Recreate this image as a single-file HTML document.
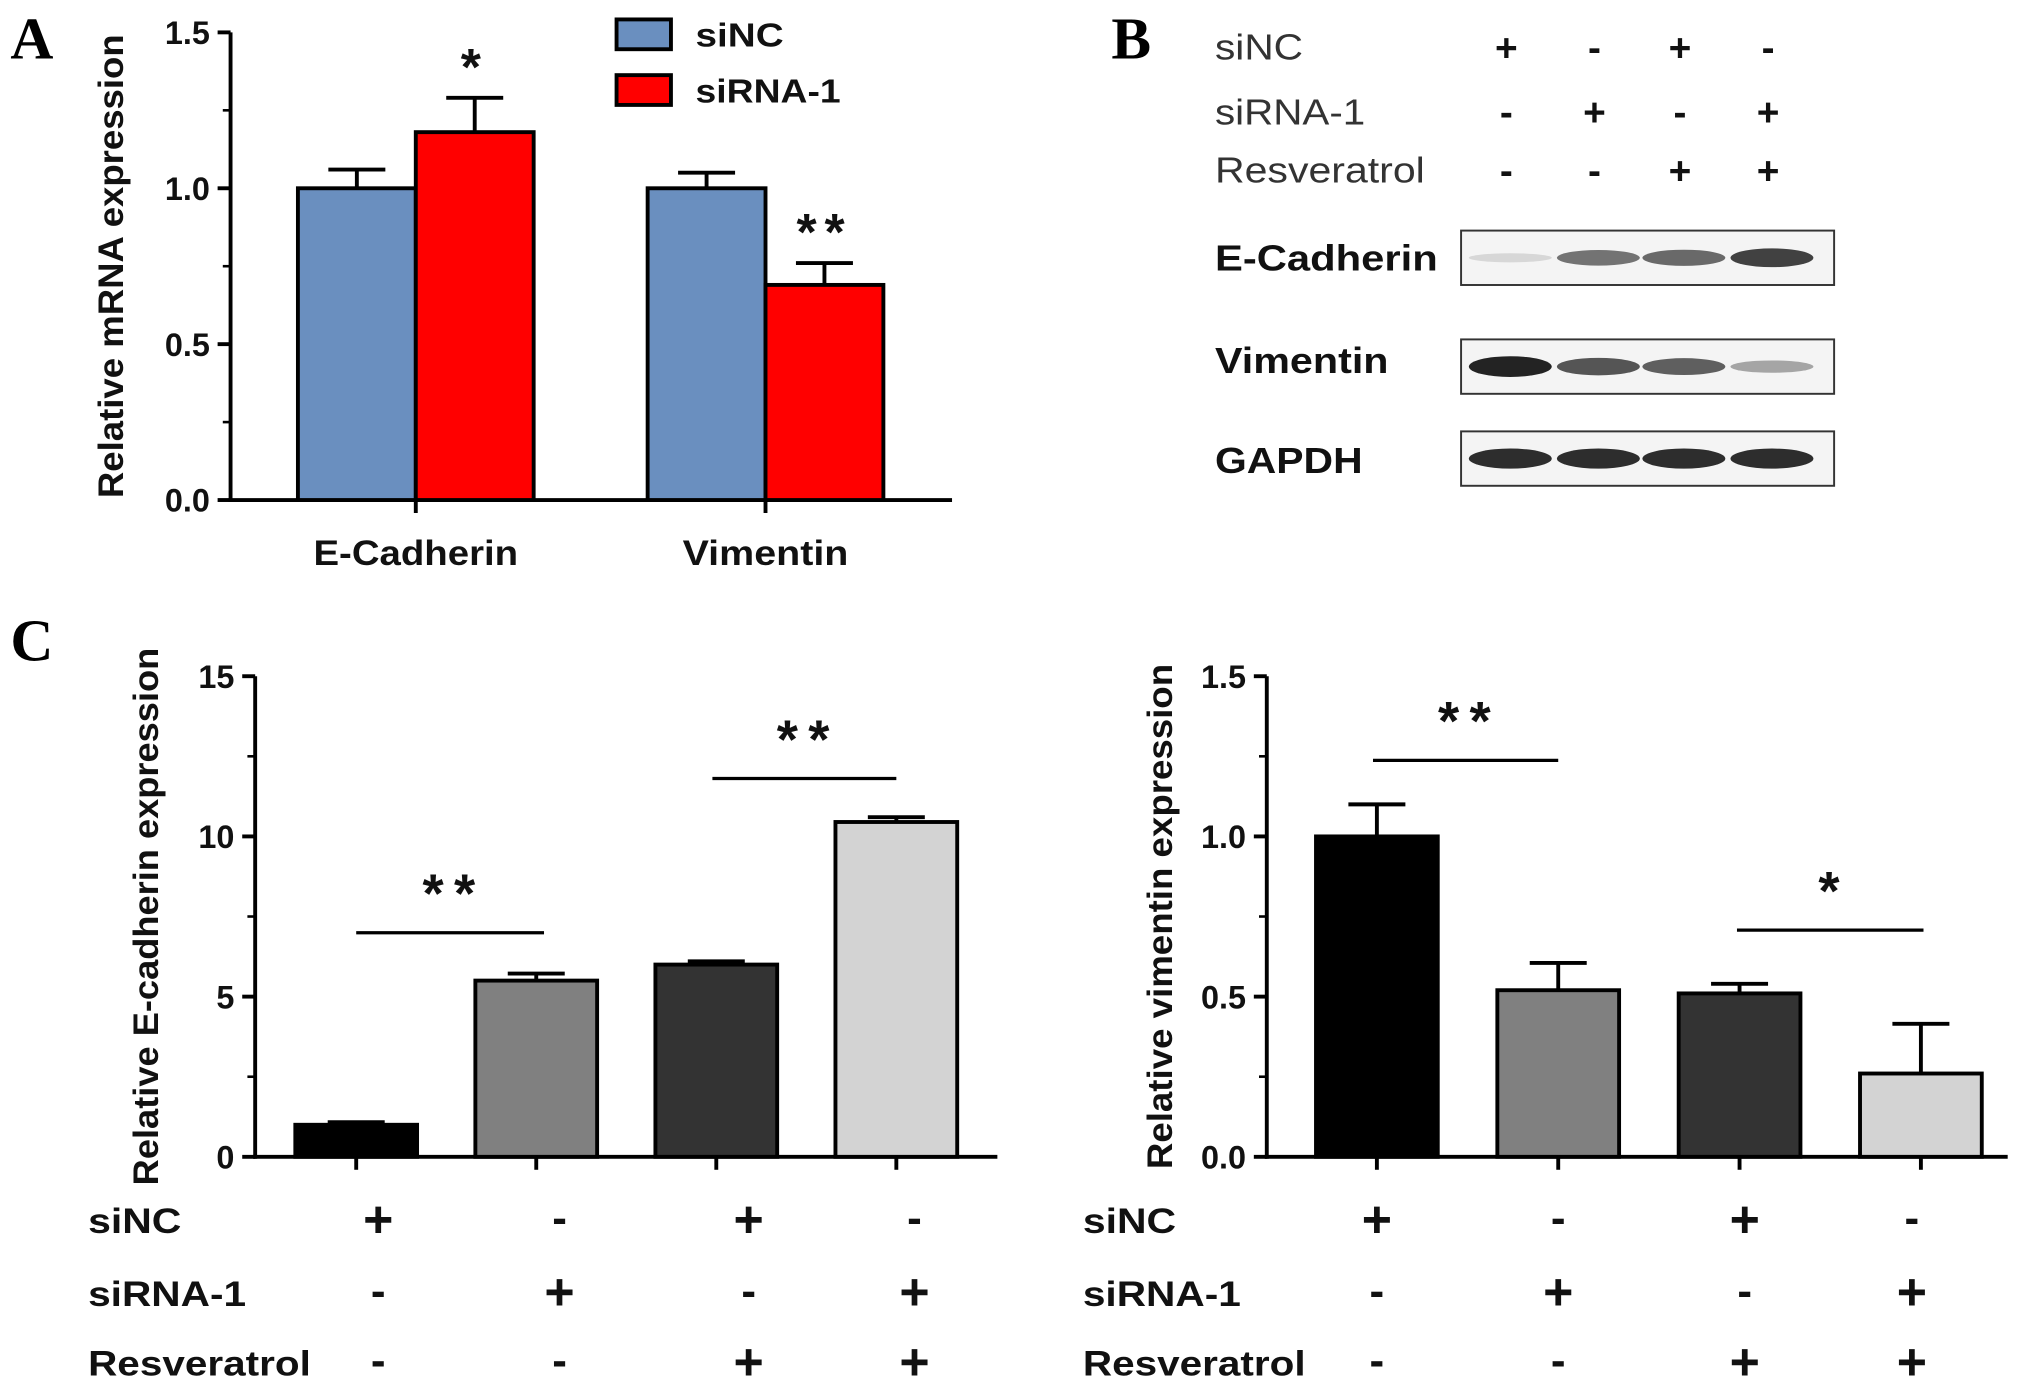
<!DOCTYPE html>
<html><head><meta charset="utf-8"><style>
html,body{margin:0;padding:0;background:#fff;}
svg{display:block;}
text{font-family:"Liberation Sans",Arial,sans-serif;}
</style></head><body>
<svg id="fig" width="2031" height="1390" viewBox="0 0 1568 1073" preserveAspectRatio="none">
<g id="g"></g>
</svg>
<script>
// Panel A data
const aCategories = ["E-Cadherin","Vimentin"];
const aSeriesNames = ["siNC","siRNA-1"];
const aSiNC = [1.0, 1.0];
const aSiNCErr = [0.06, 0.05];
const aSiRNA = [1.18, 0.69];
const aSiRNAErr = [0.11, 0.07];
const aTicks = ["0.0","0.5","1.0","1.5"];
const aStars = ["*","**"];
// Panel C left data
const cGroups = ["g1","g2","g3","g4"];
const cEcad = [1.0, 5.5, 6.0, 10.45];
const cEcadErr = [0.08, 0.22, 0.1, 0.15];
const cEcadTicks = ["0","5","10","15"];
// Panel C right data
const cVim = [1.0, 0.52, 0.51, 0.26];
const cVimErr = [0.1, 0.085, 0.03, 0.155];
const cVimTicks = ["0.0","0.5","1.0","1.5"];
const siNC = ["+","-","+","-"];
const siRNA = ["-","+","-","+"];
const resv = ["-","-","+","+"];
// Panel B band intensities (0..1)
const bEcad = [0.1, 0.6, 0.65, 0.85];
const bVim = [1.0, 0.75, 0.7, 0.35];
const bGapdh = [0.95, 0.95, 0.95, 0.95];

const NS="http://www.w3.org/2000/svg";
const G=document.getElementById('g');
function mk(tag,attrs,parent,txt){const e=document.createElementNS(NS,tag);for(const k in attrs)e.setAttribute(k,attrs[k]);if(txt!==undefined)e.textContent=txt;(parent||G).appendChild(e);return e;}
function line(x1,y1,x2,y2,w,p){return mk('line',{x1,y1,x2,y2,stroke:'#000','stroke-width':w||3},p);}
function txt(x,y,s,size,anchor,p,extra){const t=mk('text',Object.assign({x,y,'font-size':size,'font-weight':'bold','text-anchor':anchor||'start',fill:'#111'},extra||{}),p,s);return t;}
const rowLen={'siNC':72,'siRNA-1':122,'Resveratrol':172};

function axisPanel(o){
  const g=mk('g',{});
  
  
  const sy=v=>o.y0-(v/o.max)*(o.y0-o.yTop);
  line(o.ax,o.yTop,o.ax,o.y0+1.5,3,g);
  line(o.ax-1.5,o.y0,o.axEnd,o.y0,3,g);
  const n=o.ticks.length-1;
  o.ticks.forEach((t,i)=>{const v=i*o.max/n;const y=sy(v);
    line(o.ax-10,y,o.ax,y,3,g);
    const l=txt(o.ax-16,y+9,t,25,'end',g);
    
    
    if(i<n){const ym=sy(v+o.max/n/2);line(o.ax-6,ym,o.ax,ym,2,g);}
  });
  const yt=txt(0,0,o.ytitle,o.ytSize||27,'middle',g,{transform:`translate(${o.ytx},${(o.yTop+o.y0)/2}) rotate(-90)`,textLength:o.ytLen,lengthAdjust:'spacingAndGlyphs'});
  
  
  return {g,sy};
}
function bar(g,sy,x1,x2,v,err,fill,name){
  const r=mk('rect',{x:x1,y:sy(v),width:x2-x1,height:sy(0)-sy(v),fill,stroke:'#000','stroke-width':3},g);
  
  
  const cx=(x1+x2)/2;
  line(cx,sy(v),cx,sy(v+err),3,g);
  line(cx-22,sy(v+err),cx+22,sy(v+err),3,g);
}

// Panel A
(function(){
  const {g,sy}=axisPanel({name:'panel-a-chart',ax:178,y0:386,yTop:25,max:1.5,ticks:aTicks,axEnd:735,ytitle:'Relative mRNA expression',ytx:95,ytLen:358});
  const groupX=[230,500], w=91;
  aCategories.forEach((c,i)=>{
    bar(g,sy,groupX[i],groupX[i]+w,aSiNC[i],aSiNCErr[i],'#6a8fbf','bar-sinc-'+c.toLowerCase());
    bar(g,sy,groupX[i]+w,groupX[i]+2*w,aSiRNA[i],aSiRNAErr[i],'#ff0000','bar-sirna-'+c.toLowerCase());
    const cx=groupX[i]+w;
    line(cx,386,cx,396,3,g);
    const l=txt(cx,436,c,27,'middle',g,{textLength:i===0?158:128,lengthAdjust:'spacingAndGlyphs'});
    
    
    const s=txt(groupX[i]+1.5*w,sy(aSiRNA[i]+aSiRNAErr[i])-10,aStars[i],40,'middle',g,{'letter-spacing':'6'});
    
    
  });
  const cols=['#6a8fbf','#ff0000'];
  aSeriesNames.forEach((n,i)=>{
    const lg=mk('g',{},g);
    
    
    mk('rect',{x:476,y:15+i*43,width:42,height:23,fill:cols[i],stroke:'#000','stroke-width':3},lg);
    txt(537,36+i*43,n,26,'start',lg,{textLength:i===0?68:112,lengthAdjust:'spacingAndGlyphs'});
  });
})();

// Panel C left & right
function panelC(name,ax,axEnd,max,ticks,vals,errs,ytitle,ytx,ytLen,xs,symX,labX,sig){
  const {g,sy}=axisPanel({name,ax,y0:893,yTop:522,max,ticks,axEnd,ytitle,ytx,ytLen});
  const fills=['#000','#808080','#333','#d3d3d3'];
  cGroups.forEach((c,i)=>{
    bar(g,sy,xs[i],xs[i]+94,vals[i],errs[i],fills[i],name+'-bar-'+(i+1));
    const cx=xs[i]+47; line(cx,893,cx,903,3,g);
  });
  const rows=[['siNC',siNC,942],['siRNA-1',siRNA,998],['Resveratrol',resv,1052]];
  rows.forEach(r=>{
    const l=txt(labX,r[2]+10,r[0],27,'start',g,{textLength:rowLen[r[0]],lengthAdjust:'spacingAndGlyphs'});
    
    
    r[1].forEach((s,i)=>{const t=txt(symX[i],r[2]+(s==='+'?13:10),s,s==='+'?40:34,'middle',g);
      
      });
  });
  sig.forEach(s=>{
    line(s[0],s[2],s[1],s[2],2.5,g);
    const t=txt((s[0]+s[1])/2+3,s[2]-16,s[3],42,'middle',g,{'letter-spacing':'8'});
    
    
  });
}
panelC('panel-c-ecadherin-chart',197,770,15,cEcadTicks,cEcad,cEcadErr,'Relative E-cadherin expression',122,415,[228,367,506,645],[292,432,578,706],68,[[275,420,720,'**'],[550,692,601,'**']]);
panelC('panel-c-vimentin-chart',978,1550,1.5,cVimTicks,cVim,cVimErr,'Relative vimentin expression',905,390,[1016,1156,1296,1436],[1063,1203,1347,1476],836,[[1060,1203,587,'**'],[1341,1485,718,'*']]);

// Panel B western blot
(function(){
  const g=mk('g',{});
  
  
  const cols=[1163,1231,1297,1365];
  const lens={'siNC':68,'siRNA-1':116,'Resveratrol':162};
  const rows=[['siNC',siNC,36],['siRNA-1',siRNA,86],['Resveratrol',resv,131]];
  rows.forEach(r=>{
    const l=txt(938,r[2]+10,r[0],28,'start',g,{'font-weight':'normal',fill:'#333',textLength:lens[r[0]],lengthAdjust:'spacingAndGlyphs'});
    
    
    r[1].forEach((s,i)=>{const t=txt(cols[i],r[2]+11,s,30,'middle',g);
      
      });
  });
  const blots=[['E-Cadherin',bEcad,178,199,172],['Vimentin',bVim,262,278,134],['GAPDH',bGapdh,333,355,114]];
  blots.forEach(b=>{
    const bg=mk('g',{},g);
    
    
    txt(938,b[3]+10,b[0],28,'start',bg,{textLength:b[4],lengthAdjust:'spacingAndGlyphs'});
    mk('rect',{x:1128,y:b[2],width:288,height:42,fill:'#f4f4f4',stroke:'#333','stroke-width':1.5},bg);
    b[1].forEach((v,i)=>{
      const c=Math.round(235-v*200);
      mk('ellipse',{cx:cols[i]+3,cy:b[2]+21,rx:32,ry:3+v*5,fill:`rgb(${c},${c},${c})`},bg);
    });
  });
})();

// Panel letters
[['A',8,45],['B',858,45],['C',8,510]].forEach(p=>{
  const t=mk('text',{x:p[1],y:p[2],'font-size':46,'font-weight':'bold',fill:'#000',style:'font-family:"Liberation Serif",serif'},G,p[0]);
  
  
});
</script>
</body></html>
